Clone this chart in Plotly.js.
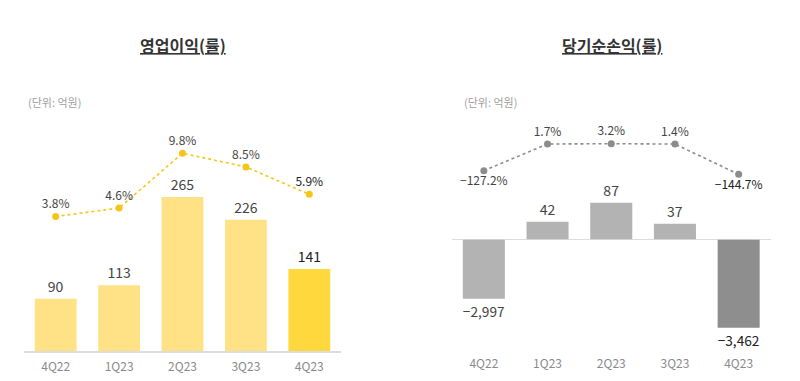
<!DOCTYPE html>
<html>
<head>
<meta charset="utf-8">
<script src="https://cdn.plot.ly/plotly-3.0.1.min.js"></script>
<style>
  html, body { margin: 0; padding: 0; background: #ffffff; }
  #chart { width: 800px; height: 381px; }
</style>
</head>
<body>
<div id="chart"></div>
<script>
// ---- data ----
const quarters = ['4Q22', '1Q23', '2Q23', '3Q23', '4Q23'];
const opProfit = [90, 113, 265, 226, 141];          // 영업이익 (억원)
const opMargin = [3.8, 4.6, 9.8, 8.5, 5.9];         // 영업이익률 (%)
const netIncome = [-2997, 42, 87, 37, -3462];       // 당기순손익 (억원)
const netMargin = [-127.2, 1.7, 3.2, 1.4, -144.7];  // 당기순손익률 (%)
const leftTitle = '영업이익(률)';
const rightTitle = '당기순손익(률)';
const unitLabel = '(단위: 억원)';

// ---- helpers ----
const fmtNum = v => (v < 0 ? '−' : '') + Math.abs(v).toLocaleString('en-US');
const fmtPct = v => (v < 0 ? '−' : '') + Math.abs(v).toFixed(1) + '%';
const lastIdx = quarters.length - 1;

const FONT = '"Noto Sans CJK KR", "Noto Sans", sans-serif';

const opColors = opProfit.map((v, i) => i === lastIdx ? '#FFD83D' : '#FFE285');
const opTextColors = opProfit.map((v, i) => i === lastIdx ? '#222222' : '#444444');
const netColors = netIncome.map((v, i) => i === lastIdx ? '#8E8E8E' : '#B3B3B3');
const netTextColors = netIncome.map((v, i) => i === lastIdx ? '#222222' : '#444444');

const posNet = netIncome.map(v => v >= 0 ? v : null);
const negNet = netIncome.map(v => v < 0 ? v : null);

const traces = [
  // Left: operating profit bars
  {
    type: 'bar', x: quarters, y: opProfit, xaxis: 'x', yaxis: 'y',
    marker: { color: opColors },
    text: opProfit.map(fmtNum), textposition: 'outside', cliponaxis: false,
    textfont: { size: 14, color: opTextColors, family: FONT },
    hoverinfo: 'x+y'
  },
  // Left: operating margin line
  {
    type: 'scatter', mode: 'lines+markers+text', x: quarters, y: opMargin,
    xaxis: 'x', yaxis: 'y2',
    line: { color: '#F5C518', width: 1.6, dash: 'dot' },
    marker: { color: '#F5C518', size: 7 },
    text: opMargin.map(fmtPct), textposition: 'top center', cliponaxis: false,
    textfont: { size: 12, color: opMargin.map((v, i) => i === lastIdx ? '#222222' : '#444444'), family: FONT }
  },
  // Right: positive net income bars
  {
    type: 'bar', x: quarters, y: posNet, xaxis: 'x2', yaxis: 'y3',
    marker: { color: netColors },
    text: posNet.map(v => v === null ? '' : fmtNum(v)), textposition: 'outside', cliponaxis: false,
    textfont: { size: 14, color: netTextColors, family: FONT }
  },
  // Right: negative net income bars (broken axis)
  {
    type: 'bar', x: quarters, y: negNet, xaxis: 'x2', yaxis: 'y4',
    marker: { color: netColors },
    text: negNet.map(v => v === null ? '' : fmtNum(v)), textposition: 'outside', cliponaxis: false,
    textfont: { size: 14, color: netTextColors, family: FONT }
  },
  // Right: net margin line
  {
    type: 'scatter', mode: 'lines+markers+text', x: quarters, y: netMargin,
    xaxis: 'x2', yaxis: 'y5',
    line: { color: '#8C8C8C', width: 1.6, dash: 'dot' },
    marker: { color: '#8C8C8C', size: 7 },
    text: netMargin.map(fmtPct),
    textposition: netMargin.map(v => v < 0 ? 'bottom center' : 'top center'),
    cliponaxis: false,
    textfont: { size: 12, color: netMargin.map((v, i) => i === lastIdx ? '#222222' : '#444444'), family: FONT }
  }
];

const H = 381;
const fy = px => (H - px) / H;   // pixel-from-top to paper fraction

const hiddenY = { showgrid: false, zeroline: false, showticklabels: false, ticks: '', fixedrange: true };

const layout = {
  width: 800, height: 381,
  margin: { l: 0, r: 0, t: 0, b: 0 },
  paper_bgcolor: '#ffffff', plot_bgcolor: 'rgba(0,0,0,0)',
  showlegend: false,
  bargap: 0.34,
  font: { family: FONT, color: '#444444' },
  xaxis: {
    domain: [24 / 800, 341 / 800], anchor: 'y',
    showline: true, linecolor: '#DDDDDD', linewidth: 1.5,
    showgrid: false, ticks: '', zeroline: false,
    tickfont: { size: 12, color: '#8A8A8A', family: FONT }, ticklabelstandoff: 4
  },
  yaxis: Object.assign({}, hiddenY, { domain: [fy(351), fy(150)], range: [0, 346], anchor: 'x' }),
  yaxis2: Object.assign({}, hiddenY, { domain: [fy(230), fy(140)], range: [2.516, 11.055], anchor: 'x' }),
  xaxis2: {
    domain: [452 / 800, 770.5 / 800], anchor: 'y4',
    showline: false, showgrid: false, ticks: '', zeroline: false,
    tickfont: { size: 12, color: '#8A8A8A', family: FONT }, ticklabelstandoff: 4
  },
  yaxis3: Object.assign({}, hiddenY, {
    domain: [fy(239.7), fy(190)], range: [-1, 117.3], anchor: 'x2',
    zeroline: true, zerolinecolor: '#DDDDDD', zerolinewidth: 1.5
  }),
  yaxis4: Object.assign({}, hiddenY, { domain: [fy(351), fy(239.7)], range: [-3835, -2051], anchor: 'x2' }),
  yaxis5: Object.assign({}, hiddenY, { domain: [fy(190), fy(130)], range: [-220.5, 69.3], anchor: 'x2' }),
  annotations: [
    {
      xref: 'paper', yref: 'paper', x: 183 / 800, y: fy(45), xanchor: 'center', yanchor: 'middle',
      text: '<b><span style="text-decoration:underline">' + leftTitle + '</span></b>', showarrow: false,
      font: { size: 16, color: '#333333', family: FONT }
    },
    {
      xref: 'paper', yref: 'paper', x: 612 / 800, y: fy(45), xanchor: 'center', yanchor: 'middle',
      text: '<b><span style="text-decoration:underline">' + rightTitle + '</span></b>', showarrow: false,
      font: { size: 16, color: '#333333', family: FONT }
    },
    {
      xref: 'paper', yref: 'paper', x: 26 / 800, y: fy(101.5), xanchor: 'left', yanchor: 'middle',
      text: unitLabel, showarrow: false,
      font: { size: 11, color: '#A0A0A0', family: FONT }
    },
    {
      xref: 'paper', yref: 'paper', x: 462 / 800, y: fy(101.5), xanchor: 'left', yanchor: 'middle',
      text: unitLabel, showarrow: false,
      font: { size: 11, color: '#A0A0A0', family: FONT }
    }
  ]
};

Plotly.newPlot('chart', traces, layout, { displayModeBar: false, staticPlot: true });
</script>
</body>
</html>
